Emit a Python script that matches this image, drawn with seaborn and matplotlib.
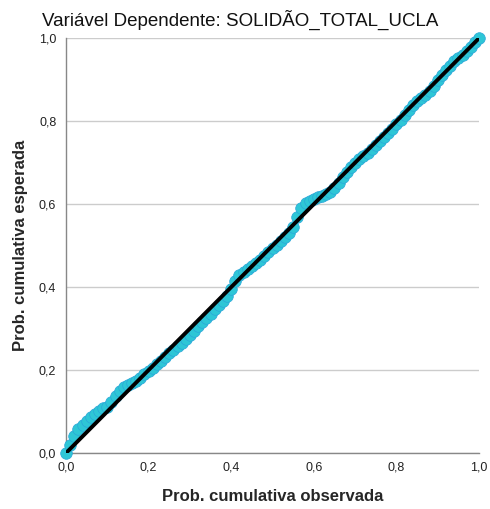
import numpy as np
import pandas as pd
import matplotlib
matplotlib.use('Agg')
import matplotlib.pyplot as plt
from matplotlib.ticker import FuncFormatter
import seaborn as sns

obs = [0.00, 0.01, 0.02, 0.03, 0.04, 0.05, 0.06, 0.07, 0.08, 0.09,
       0.10, 0.11, 0.12, 0.13, 0.14, 0.15, 0.16, 0.17, 0.18, 0.19,
       0.20, 0.21, 0.22, 0.23, 0.24, 0.25, 0.26, 0.27, 0.28, 0.29,
       0.30, 0.31, 0.32, 0.33, 0.34, 0.35, 0.36, 0.37, 0.38, 0.39,
       0.40, 0.41, 0.42, 0.43, 0.44, 0.45, 0.46, 0.47, 0.48, 0.49,
       0.50, 0.51, 0.52, 0.53, 0.54, 0.55, 0.56, 0.57, 0.58, 0.59,
       0.60, 0.61, 0.62, 0.63, 0.64, 0.65, 0.66, 0.67, 0.68, 0.69,
       0.70, 0.71, 0.72, 0.73, 0.74, 0.75, 0.76, 0.77, 0.78, 0.79,
       0.80, 0.81, 0.82, 0.83, 0.84, 0.85, 0.86, 0.87, 0.88, 0.89,
       0.90, 0.91, 0.92, 0.93, 0.94, 0.95, 0.96, 0.97, 0.98, 0.99, 1.00]
esp = [0.000, 0.020, 0.040, 0.058, 0.068, 0.078, 0.088, 0.095, 0.102, 0.108,
       0.112, 0.124, 0.138, 0.150, 0.158, 0.164, 0.168, 0.174, 0.182, 0.190,
       0.197, 0.206, 0.214, 0.223, 0.232, 0.241, 0.249, 0.258, 0.266, 0.275,
       0.285, 0.295, 0.305, 0.316, 0.326, 0.336, 0.346, 0.356, 0.366, 0.378,
       0.396, 0.414, 0.428, 0.436, 0.444, 0.450, 0.458, 0.466, 0.476, 0.485,
       0.494, 0.502, 0.511, 0.520, 0.530, 0.544, 0.568, 0.590, 0.602, 0.608,
       0.612, 0.616, 0.620, 0.624, 0.630, 0.640, 0.652, 0.665, 0.678, 0.690,
       0.700, 0.708, 0.716, 0.724, 0.732, 0.742, 0.752, 0.762, 0.772, 0.782,
       0.792, 0.802, 0.814, 0.826, 0.838, 0.848, 0.856, 0.864, 0.872, 0.884,
       0.898, 0.912, 0.924, 0.934, 0.944, 0.952, 0.960, 0.968, 0.978, 0.990, 1.000]

df = pd.DataFrame({'obs': obs, 'esp': esp})

sns.set_style('white')
plt.rcParams['font.family'] = ['Liberation Sans', 'DejaVu Sans']

fig = plt.figure(figsize=(4.9, 5.09), dpi=100)
ax = fig.add_axes([0.1347, 0.110, 0.843, 0.815])

sns.scatterplot(data=df, x='obs', y='esp', ax=ax, s=70, color='#2ec6d6',
                edgecolor='#2aa6d8', linewidth=0.5, zorder=3, clip_on=False)
ax.plot([0, 1], [0, 1], color='black', lw=2.8, zorder=4, solid_capstyle='round')

ax.set_xlim(0, 1)
ax.set_ylim(0, 1)
ticks = [0.0, 0.2, 0.4, 0.6, 0.8, 1.0]
ax.set_xticks(ticks)
ax.set_yticks(ticks)
fmt = FuncFormatter(lambda v, p: f'{v:.1f}'.replace('.', ','))
ax.xaxis.set_major_formatter(fmt)
ax.yaxis.set_major_formatter(fmt)
ax.tick_params(axis='both', length=0, labelsize=9, colors='#222222')
ax.tick_params(axis='x', pad=6)
ax.tick_params(axis='y', pad=7)

ax.yaxis.grid(True, color='#cccccc', lw=1)
ax.xaxis.grid(False)
ax.set_axisbelow(True)
for s in ['top', 'right']:
    ax.spines[s].set_visible(False)
for s in ['left', 'bottom']:
    ax.spines[s].set_color('#888888')
    ax.spines[s].set_linewidth(1)

ax.set_xlabel('Prob. cumulativa observada', fontsize=12, fontweight='bold', labelpad=11)
ax.set_ylabel('Prob. cumulativa esperada', fontsize=12, fontweight='bold', labelpad=8)

fig.text(42 / 490, 1 - 20 / 509, 'Variável Dependente: SOLIDÃO_TOTAL_UCLA',
         fontsize=13.5, ha='left', va='center', color='#111111')

fig.savefig('out.png', dpi=100)
